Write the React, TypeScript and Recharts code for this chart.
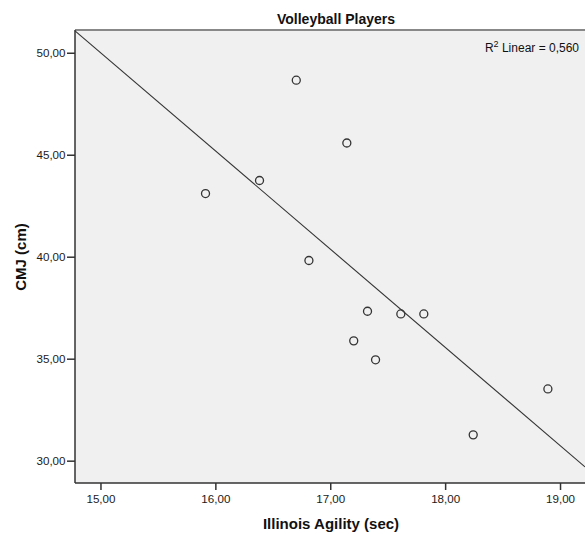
import React from "react";
import {
  ScatterChart,
  Scatter,
  XAxis,
  YAxis,
  CartesianGrid,
  ReferenceLine,
} from "recharts";

// Illinois agility time (sec) for each player
const agility = [
  15.91, 16.38, 16.7, 17.14, 16.81, 17.32, 17.61, 17.81, 17.2, 17.39, 18.89,
  18.24,
];
// CMJ height (cm) for the same players
const cmj = [
  43.12, 43.76, 48.68, 45.6, 39.84, 37.35, 37.22, 37.22, 35.9, 34.97, 33.54,
  31.29,
];
const xTicks = [15, 16, 17, 18, 19];
const yTicks = [30, 35, 40, 45, 50];
// linear fit line ends
const fitLine = [
  { x: 14.774, y: 51.1 },
  { x: 19.213, y: 29.72 },
];

const points = agility.map((x, i) => ({ x, y: cmj[i] }));

const X_DOMAIN: [number, number] = [14.774, 19.213];
const Y_DOMAIN: [number, number] = [28.93, 51.14];

const FONT = '"Liberation Sans", Arial, sans-serif';
const fmt = (v: number) => v.toFixed(2).replace(".", ",");

const Ring = (props: any) => (
  <circle
    cx={props.cx}
    cy={props.cy}
    r={4}
    fill="none"
    stroke="#333"
    strokeWidth={1.3}
  />
);

export default function App() {
  return (
    <div
      style={{
        position: "absolute",
        left: 0,
        top: 0,
        width: 585,
        height: 534,
        overflow: "hidden",
        background: "#fff",
        fontFamily: FONT,
      }}
    >
      <ScatterChart
        width={585}
        height={534}
        margin={{ top: 30, right: 0, bottom: 0, left: 0 }}
      >
        <CartesianGrid
          fill="#f0f0f0"
          horizontal={false}
          vertical={false}
          stroke="none"
        />
        <XAxis
          type="number"
          dataKey="x"
          domain={X_DOMAIN}
          allowDataOverflow
          ticks={xTicks}
          tickFormatter={fmt}
          height={51}
          tickSize={7}
          tickMargin={5}
          axisLine={{ stroke: "#333", strokeWidth: 1.5 }}
          tickLine={{ stroke: "#333", strokeWidth: 1.5 }}
          tick={{ fill: "#1a1a1a", fontSize: 11.6, fontFamily: FONT }}
        />
        <YAxis
          type="number"
          dataKey="y"
          domain={Y_DOMAIN}
          allowDataOverflow
          ticks={yTicks}
          tickFormatter={fmt}
          width={75}
          tickSize={8}
          tickMargin={1.5}
          axisLine={{ stroke: "#333", strokeWidth: 1.5 }}
          tickLine={{ stroke: "#333", strokeWidth: 1.5 }}
          tick={{ fill: "#1a1a1a", fontSize: 11.6, fontFamily: FONT }}
        />
        <ReferenceLine y={Y_DOMAIN[1]} stroke="#888" strokeWidth={2} />
        <ReferenceLine
          segment={fitLine}
          stroke="#333"
          strokeWidth={1.1}
          ifOverflow="visible"
        />
        <Scatter
          data={points}
          shape={Ring}
          isAnimationActive={false}
        />
      </ScatterChart>

      <div
        style={{
          position: "absolute",
          left: 336,
          top: 11.5,
          transform: "translateX(-50%)",
          fontSize: 14,
          lineHeight: 1,
          fontWeight: "bold",
          whiteSpace: "nowrap",
          color: "#111",
        }}
      >
        Volleyball Players
      </div>

      <div
        style={{
          position: "absolute",
          right: 6,
          top: 41.5,
          fontSize: 12,
          lineHeight: 1,
          whiteSpace: "nowrap",
          color: "#111",
        }}
      >
        R
        <span
          style={{
            fontSize: 9,
            position: "relative",
            top: -5,
          }}
        >
          2
        </span>{" "}
        Linear = 0,560
      </div>

      <div
        style={{
          position: "absolute",
          left: 331,
          top: 516,
          transform: "translateX(-50%)",
          fontSize: 15,
          lineHeight: 1,
          fontWeight: "bold",
          whiteSpace: "nowrap",
          color: "#111",
        }}
      >
        Illinois Agility (sec)
      </div>

      <div
        style={{
          position: "absolute",
          left: 20,
          top: 257,
          transform: "translate(-50%, -50%) rotate(-90deg)",
          fontSize: 15,
          lineHeight: 1,
          fontWeight: "bold",
          whiteSpace: "nowrap",
          color: "#111",
        }}
      >
        CMJ (cm)
      </div>
    </div>
  );
}
